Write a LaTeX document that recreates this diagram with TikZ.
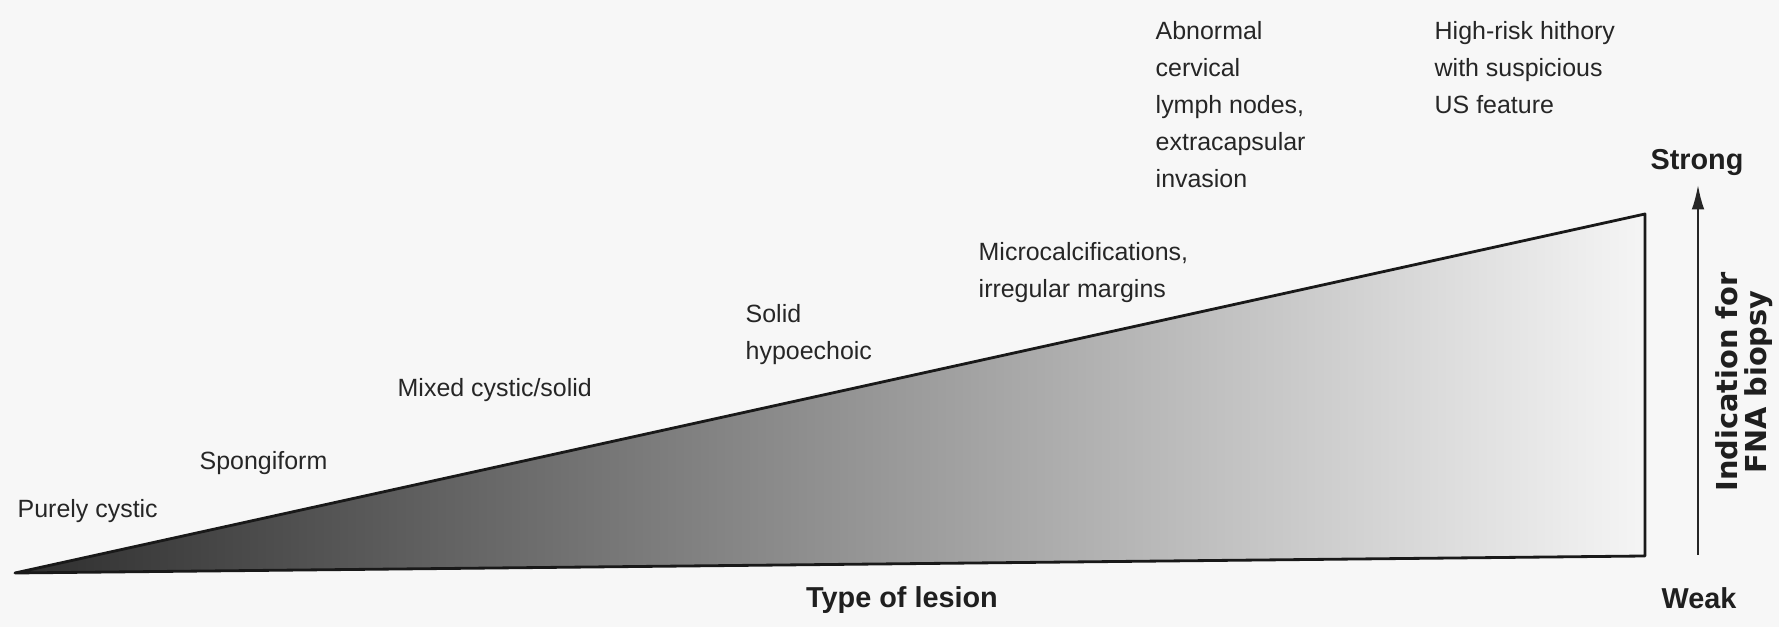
\documentclass[tikz,border=0pt]{standalone}
\usepackage{fontspec}
\setmainfont{Liberation Sans}
\newfontfamily\widefont{DejaVu Sans}
\usetikzlibrary{arrows.meta,positioning}

\begin{document}
\begin{tikzpicture}[x=0.1mm,y=-0.1mm]
\tikzset{
  lbl/.style={font=\fontsize{7.1}{10.5}\selectfont, text=black!85, inner sep=0pt, align=left},
  axlbl/.style={font=\fontsize{8.2}{10}\selectfont\bfseries, text=black!88, inner sep=0pt},
  arr/.style={-{Latex[length=7pt,width=3.6pt]}, line width=0.6pt, black!85},
}
\fill[black!3] (0,0) rectangle (1779,627);
\useasboundingbox (0,0) rectangle (1779,627);
\coordinate (tip) at (15,573);
\coordinate (topr) at (1645,214);
\coordinate (botr) at (1645,556);
\shade[left color=black!82, right color=black!4] (tip) -- (topr) -- (botr) -- cycle;
\draw[line width=0.8pt, line join=round, black!90] (tip) -- (topr) -- (botr) -- cycle;
\node[lbl, anchor=west] (cystic) at (17,511) {Purely cystic};
\node[lbl, anchor=west] (spongi) at (199,463) {Spongiform};
\node[lbl, anchor=west] (mixed) at (397,390) {Mixed cystic/solid};
\node[lbl, anchor=north west] (solid) at (745,304) {Solid\\hypoechoic};
\node[lbl, anchor=north west] (micro) at (978,242) {Microcalcifications,\\irregular margins};
\node[lbl, anchor=north west] (abnormal) at (1155,21) {Abnormal\\cervical\\lymph nodes,\\extracapsular\\invasion};
\node[lbl, anchor=north west] (highrisk) at (1434,21) {High-risk hithory\\with suspicious\\US feature};
\node[axlbl] (type) at (902,600) {Type of lesion};
\node[axlbl] (strong) at (1697,163) {Strong};
\node[axlbl] (weak) at (1699,598) {Weak};
\coordinate (abot) at (1698,555);
\draw[arr, shorten >=2.3pt] (abot) -- (abot |- strong.south);
\node[rotate=90, align=center, inner sep=0pt, text=black!88,
  font={\widefont\bfseries\fontsize{8.2}{8.2}\selectfont}] (fna) at (1744,382) {Indication for\\FNA biopsy};
\end{tikzpicture}
\end{document}
